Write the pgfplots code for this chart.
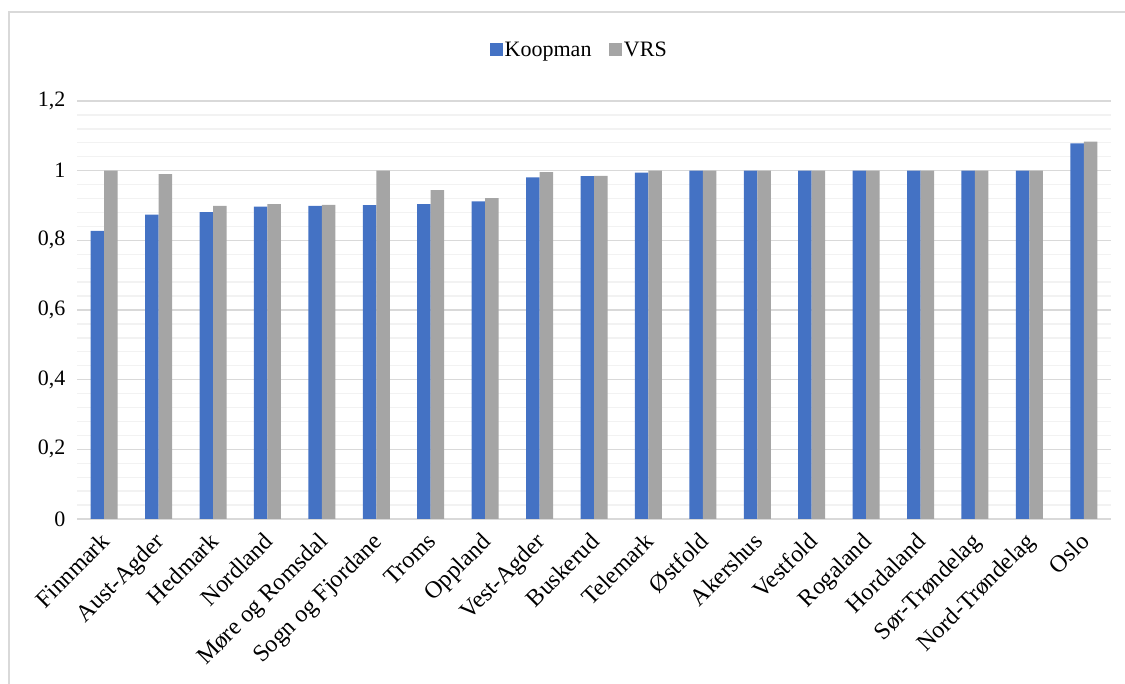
\documentclass[border=0pt]{standalone}
\usepackage{fontspec}
\setmainfont{Liberation Serif}
\usepackage{pgfplots}
\pgfplotsset{compat=1.18}
\usepackage{pgfplotstable}

\definecolor{koop}{HTML}{4472C4}
\definecolor{vrs}{HTML}{A5A5A5}
\definecolor{majgrid}{HTML}{D9D9D9}
\definecolor{mingrid}{HTML}{F2F2F2}
\definecolor{frame}{HTML}{D9D9D9}

% Efficiency scores per county: Koopman and VRS
\pgfplotstableread{
idx K V
0 0.827 1.000
1 0.874 0.990
2 0.881 0.899
3 0.897 0.904
4 0.899 0.902
5 0.901 1.000
6 0.904 0.944
7 0.912 0.921
8 0.981 0.996
9 0.984 0.985
10 0.994 1.000
11 1.000 1.000
12 1.000 1.000
13 1.000 1.000
14 1.000 1.000
15 1.000 1.000
16 1.000 1.000
17 1.000 1.000
18 1.078 1.083
}\data

\newcommand{\chartfont}{\fontsize{22}{26}\selectfont}
\newcommand{\catfont}{\fontsize{24}{28}\selectfont}

\begin{document}
\begin{tikzpicture}
\useasboundingbox (0pt,0pt) rectangle (1125pt,684pt);
\draw[frame, line width=1.8pt] (9pt,-10pt) -- (9pt,672pt) -- (1140pt,672pt);
\begin{axis}[
  at={(77pt,165pt)}, anchor=south west,
  scale only axis, width=1034pt, height=418pt,
  ybar=0pt, bar width=13.5pt,
  xmin=-0.5, xmax=18.5, ymin=0, ymax=1.2,
  xtick={0,...,18},
  xticklabels={Finnmark,Aust-Agder,Hedmark,Nordland,Møre og Romsdal,Sogn og Fjordane,Troms,Oppland,Vest-Agder,Buskerud,Telemark,Østfold,Akershus,Vestfold,Rogaland,Hordaland,Sør-Trøndelag,Nord-Trøndelag,Oslo},
  ytick={0,0.2,0.4,0.6,0.8,1,1.2},
  minor y tick num=4,
  ymajorgrids, yminorgrids,
  major grid style={majgrid, line width=1.3pt},
  minor grid style={mingrid, line width=1.3pt},
  axis line style={draw=none},
  tick style={draw=none},
  major tick length=0pt, minor tick length=0pt,
  /pgf/number format/.cd, use comma, fixed, precision=1, assume math mode=true,
  /pgfplots/.cd,
  yticklabel style={font=\chartfont, text=black, xshift=-8pt},
  xticklabel style={font=\catfont, text=black, rotate=45, anchor=north east, inner sep=2pt, xshift=-10pt, yshift=-3pt},
  legend style={at={(0.486,1.122)}, anchor=center, draw=none, fill=none,
    font=\chartfont, legend columns=2,
    /tikz/every even column/.append style={column sep=16pt}},
  legend image code/.code={\fill[#1] (0pt,-6pt) rectangle (12.5pt,6.5pt);},
]
\addplot[fill=koop, draw=none] table[x=idx, y=K] {\data};
\addplot[fill=vrs, draw=none] table[x=idx, y=V] {\data};
\legend{Koopman, VRS}
\end{axis}
\end{tikzpicture}
\end{document}
